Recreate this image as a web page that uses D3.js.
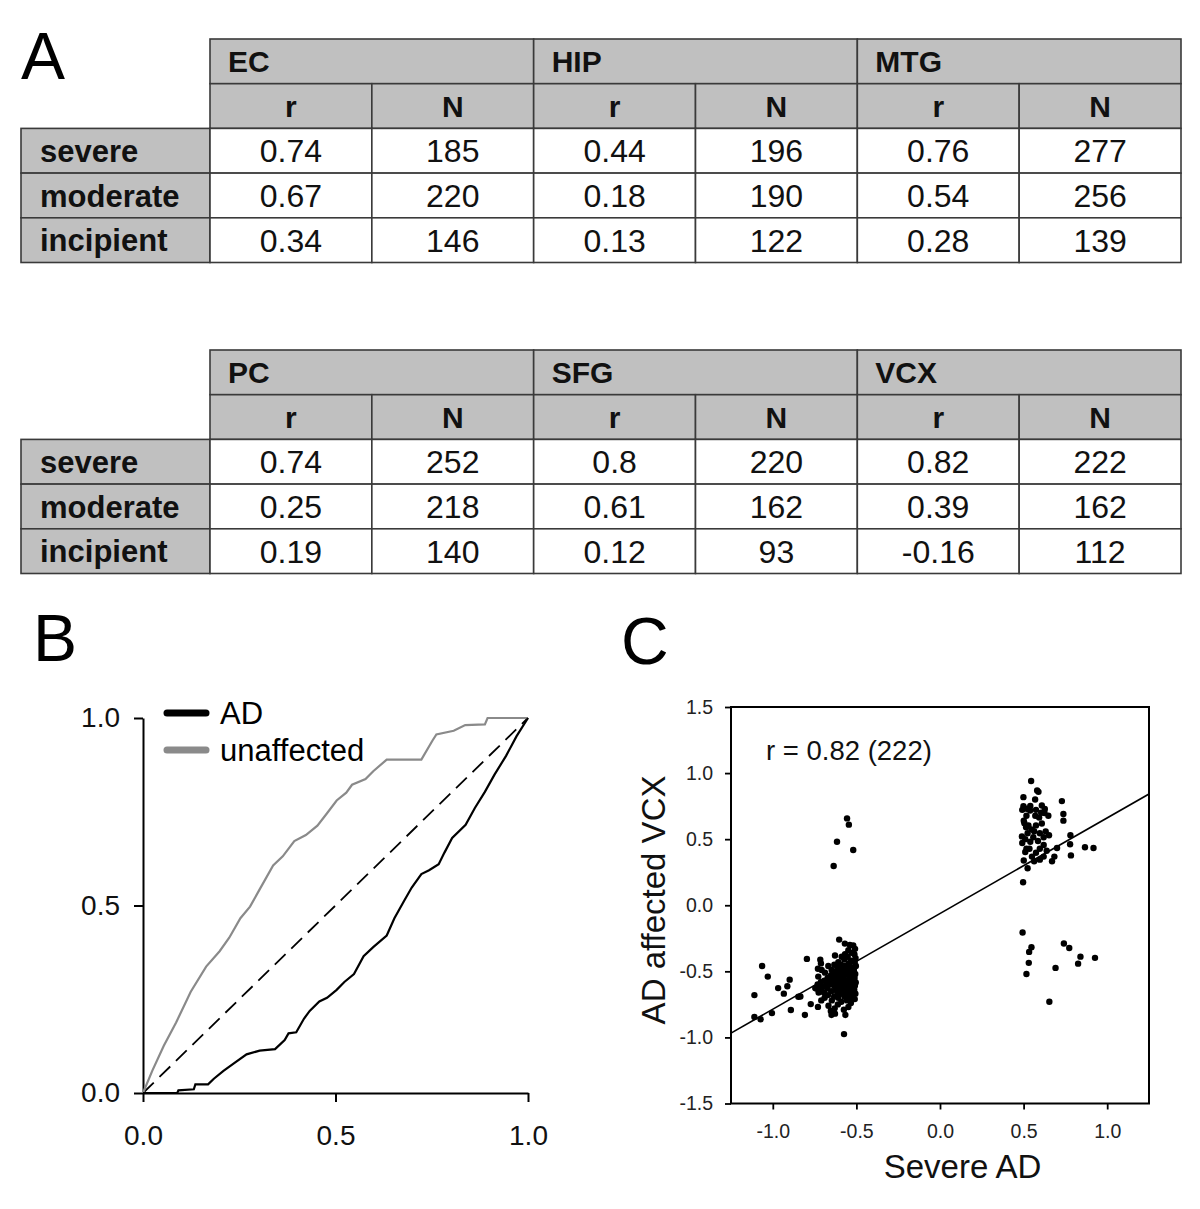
<!DOCTYPE html>
<html><head><meta charset="utf-8">
<script src="https://cdn.jsdelivr.net/npm/d3@7"></script>
<style>
html,body{margin:0;padding:0;background:#fff;}
svg{display:block;}
text{font-family:"Liberation Sans",Arial,Helvetica,sans-serif;}
</style></head>
<body><svg id="fig" width="1200" height="1209"></svg>
<script>
// ---------- DATA ----------
const stages = ["severe","moderate","incipient"];
const subHeaders = ["r","N"];
const regionsTop = ["EC","HIP","MTG"];
const regionsBottom = ["PC","SFG","VCX"];
// rows = stages, cols = regions
const rTop = [[0.74,0.44,0.76],[0.67,0.18,0.54],[0.34,0.13,0.28]];
const nTop = [[185,196,277],[220,190,256],[146,122,139]];
const rBottom = [[0.74,0.8,0.82],[0.25,0.61,0.39],[0.19,0.12,-0.16]];
const nBottom = [[252,220,222],[218,162,162],[140,93,112]];

// Panel B: P-P curves
const ppTicks = [0,0.5,1];
const adCurve = [[0,0],[0.089,0],[0.092,0.007],[0.132,0.010],[0.136,0.023],[0.169,0.023],[0.184,0.038],[0.209,0.059],[0.236,0.079],[0.269,0.103],[0.303,0.113],[0.343,0.117],[0.368,0.141],[0.378,0.159],[0.398,0.162],[0.418,0.198],[0.433,0.219],[0.458,0.244],[0.478,0.254],[0.503,0.275],[0.523,0.296],[0.548,0.317],[0.573,0.365],[0.598,0.389],[0.633,0.420],[0.653,0.466],[0.678,0.512],[0.698,0.548],[0.723,0.584],[0.743,0.594],[0.768,0.610],[0.783,0.641],[0.803,0.680],[0.838,0.715],[0.862,0.760],[0.888,0.803],[0.913,0.849],[0.943,0.899],[0.970,0.951],[1,1]];
const unaffectedCurve = [[0,0],[0.024,0.059],[0.054,0.126],[0.086,0.188],[0.124,0.27],[0.164,0.337],[0.199,0.378],[0.224,0.414],[0.253,0.466],[0.278,0.497],[0.303,0.543],[0.338,0.607],[0.363,0.631],[0.393,0.672],[0.423,0.688],[0.453,0.713],[0.478,0.746],[0.503,0.780],[0.528,0.801],[0.543,0.822],[0.578,0.837],[0.598,0.858],[0.633,0.889],[0.723,0.889],[0.752,0.940],[0.762,0.956],[0.807,0.966],[0.837,0.981],[0.888,0.983],[0.895,1.0],[1,1]];
const diagonal = [[0,0],[1,1]];
const legendLabels = ["AD","unaffected"];

// Panel C: scatter
const scTicksX = [-1.0,-0.5,0.0,0.5,1.0];
const scTicksY = [-1.5,-1.0,-0.5,0.0,0.5,1.0,1.5];
const regSlope = 0.724, regIntercept = -0.0625;
const leftStrays = [[-1.11,-0.68],[-1.064,-0.46],[-1.03,-0.54],[-1.11,-0.845],[-1.073,-0.863],[-1.005,-0.816],[-0.968,-0.627],[-0.934,-0.669],[-0.913,-0.613],[-0.899,-0.563],[-0.892,-0.792],[-0.847,-0.692],[-0.835,-0.69],[-0.808,-0.83],[-0.796,-0.406],[-0.773,-0.748],[-0.73,-0.769],[-0.716,-0.412],[-0.712,-0.44],[-0.73,-0.48],[-0.74,-0.63],[-0.746,-0.627],[-0.636,0.297],[-0.616,0.48],[-0.556,0.657],[-0.545,0.61],[-0.519,0.418],[-0.574,-0.975]];
const leftCluster = [[-0.603,-0.26],[-0.569,-0.29],[-0.539,-0.30],[-0.519,-0.305],
[-0.508,-0.33],[-0.512,-0.37],[-0.505,-0.40],[-0.51,-0.43],[-0.503,-0.46],[-0.515,-0.49],[-0.507,-0.52],[-0.511,-0.55],[-0.504,-0.585],[-0.509,-0.61],[-0.513,-0.64],[-0.506,-0.67],[-0.51,-0.71],
[-0.528,-0.36],[-0.532,-0.42],[-0.526,-0.47],[-0.534,-0.50],[-0.529,-0.54],[-0.531,-0.58],[-0.527,-0.62],[-0.535,-0.66],[-0.53,-0.70],[-0.533,-0.74],
[-0.548,-0.34],[-0.552,-0.39],[-0.546,-0.44],[-0.554,-0.48],[-0.55,-0.52],[-0.547,-0.565],[-0.553,-0.60],[-0.549,-0.63],[-0.551,-0.68],[-0.556,-0.72],[-0.548,-0.77],
[-0.568,-0.37],[-0.572,-0.41],[-0.566,-0.46],[-0.574,-0.50],[-0.57,-0.53],[-0.567,-0.57],[-0.573,-0.61],[-0.569,-0.65],[-0.571,-0.69],[-0.575,-0.79],[-0.566,-0.83],
[-0.588,-0.39],[-0.592,-0.45],[-0.586,-0.49],[-0.594,-0.52],[-0.589,-0.56],[-0.591,-0.59],[-0.587,-0.63],[-0.593,-0.67],[-0.59,-0.73],
[-0.608,-0.43],[-0.612,-0.47],[-0.606,-0.51],[-0.614,-0.55],[-0.61,-0.58],[-0.607,-0.62],[-0.613,-0.66],[-0.609,-0.70],[-0.611,-0.75],
[-0.628,-0.38],[-0.632,-0.45],[-0.626,-0.50],[-0.634,-0.54],[-0.629,-0.57],[-0.631,-0.61],[-0.627,-0.64],[-0.633,-0.69],[-0.63,-0.78],[-0.628,-0.82],
[-0.648,-0.49],[-0.652,-0.53],[-0.646,-0.57],[-0.654,-0.60],[-0.65,-0.65],[-0.647,-0.72],[-0.653,-0.80],[-0.649,-0.83],
[-0.668,-0.46],[-0.672,-0.55],[-0.666,-0.59],[-0.674,-0.63],[-0.67,-0.68],[-0.667,-0.76],
[-0.688,-0.51],[-0.692,-0.57],[-0.686,-0.61],[-0.694,-0.66],[-0.69,-0.70],
[-0.708,-0.49],[-0.712,-0.58],[-0.706,-0.62],[-0.714,-0.65],[-0.71,-0.72],
[-0.728,-0.54],[-0.732,-0.60],[-0.726,-0.66]];
const rightUpper = [[0.545,0.94],[0.589,0.858],[0.499,0.818],[0.569,0.80],[0.729,0.788],[0.499,0.75],[0.519,0.73],[0.539,0.717],[0.609,0.755],[0.738,0.69],[0.738,0.64],
[0.867,0.439],[0.918,0.433],[0.78,0.53],[0.778,0.462],[0.783,0.377],[0.70,0.433],[0.684,0.368],[0.67,0.333],[0.497,0.174],[0.524,0.28],[0.501,0.339],
[0.581,0.869],[0.492,0.722],[0.501,0.639],[0.49,0.521],[0.492,0.471],[0.535,0.427],[0.55,0.368],[0.563,0.333],[0.597,0.427],[0.620,0.368],[0.638,0.412],
[0.609,0.619],[0.625,0.698],[0.627,0.728],[0.648,0.677],[0.574,0.604],[0.547,0.574],[0.524,0.545],[0.51,0.5],[0.574,0.722],[0.570,0.677],[0.597,0.545],
[0.62,0.515],[0.586,0.486],[0.558,0.515],[0.529,0.604],[0.517,0.677],[0.54,0.751],[0.632,0.559],[0.62,0.456],[0.574,0.397],[0.597,0.345],[0.517,0.427],
[0.51,0.403],[0.54,0.48],[0.563,0.56],[0.593,0.663],[0.505,0.62],[0.515,0.59],[0.605,0.70],[0.652,0.53]];
const rightLower = [[0.494,-0.206],[0.547,-0.318],[0.533,-0.353],[0.531,-0.436],[0.517,-0.52],[0.741,-0.289],[0.773,-0.324],[0.691,-0.474],[0.654,-0.73],[0.84,-0.389],[0.826,-0.442],[0.927,-0.398]];

// ---------- DRAW ----------
const svg = d3.select("#fig");
svg.append("rect").attr("width",1200).attr("height",1209).attr("fill","#fff");
const FONT = '"Liberation Sans",Arial,Helvetica,sans-serif';
const GRAY = "#c0c0c0", BORDER = "#3a3a3a";

function panelLetter(txt,x,y){
  svg.append("text").attr("x",x).attr("y",y).attr("font-size",66).attr("fill","#000").text(txt);
}
panelLetter("A",21,79);
panelLetter("B",33,661);
panelLetter("C",621,664);

function drawTable(top, regions, rVals, nVals){
  const g = svg.append("g");
  const rowY = d3.scaleBand().domain(d3.range(5)).range([top, top+223.5]);
  const subX = d3.scaleBand().domain(d3.range(6)).range([210,1181]);
  const labelX0 = 21, labelX1 = 210;
  const cell = (x,y,w,h,fill)=>g.append("rect").attr("x",x).attr("y",y).attr("width",w).attr("height",h)
      .attr("fill",fill).attr("stroke",BORDER).attr("stroke-width",1.6);
  const rh = rowY.bandwidth(), cw = subX.bandwidth();
  regions.forEach((reg,j)=>{
    const x = subX(2*j);
    cell(x,rowY(0),2*cw,rh,GRAY);
    g.append("text").attr("x",x+18).attr("y",rowY(0)+rh/2).attr("dy","0.36em")
      .attr("font-size",30).attr("font-weight","bold").attr("fill","#111").text(reg);
  });
  d3.range(6).forEach(k=>{
    cell(subX(k),rowY(1),cw,rh,GRAY);
    g.append("text").attr("x",subX(k)+cw/2).attr("y",rowY(1)+rh/2).attr("dy","0.36em")
      .attr("text-anchor","middle").attr("font-size",30).attr("font-weight","bold").attr("fill","#111").text(subHeaders[k%2]);
  });
  stages.forEach((st,i)=>{
    const y = rowY(i+2);
    cell(labelX0,y,labelX1-labelX0,rh,GRAY);
    g.append("text").attr("x",40).attr("y",y+rh/2).attr("dy","0.36em")
      .attr("font-size",31).attr("font-weight","bold").attr("fill","#111").text(st);
    d3.range(6).forEach(k=>{
      const j = Math.floor(k/2);
      const v = k%2===0 ? rVals[i][j] : nVals[i][j];
      cell(subX(k),y,cw,rh,"#fff");
      g.append("text").attr("x",subX(k)+cw/2).attr("y",y+rh/2).attr("dy","0.36em")
        .attr("text-anchor","middle").attr("font-size",32).attr("fill","#111").text(String(v));
    });
  });
}
drawTable(39, regionsTop, rTop, nTop);
drawTable(350, regionsBottom, rBottom, nBottom);

// ---------- Panel B ----------
const xB = d3.scaleLinear().domain([0,1]).range([143,528]);
const yB = d3.scaleLinear().domain([0,1]).range([1093,718]);
const fmt = d=>d.toFixed(1);
const axB = svg.append("g");
axB.append("g").attr("transform",`translate(0,${yB(0)})`)
  .call(d3.axisBottom(xB).tickValues(ppTicks).tickSize(9).tickSizeOuter(0).tickPadding(23).tickFormat(fmt));
axB.append("g").attr("transform",`translate(${xB(0)},0)`)
  .call(d3.axisLeft(yB).tickValues(ppTicks).tickSize(9).tickSizeOuter(0).tickPadding(14).tickFormat(fmt));
axB.selectAll("path.domain, .tick line").attr("stroke","#000").attr("stroke-width",2);
axB.selectAll(".tick text").attr("font-size",28).attr("font-family",FONT).attr("fill","#111");

const lineB = d3.line().x(d=>xB(d[0])).y(d=>yB(d[1]));
svg.append("path").datum(diagonal).attr("d",lineB).attr("fill","none").attr("stroke","#000")
  .attr("stroke-width",1.8).attr("stroke-dasharray","15,8");
svg.append("path").datum(unaffectedCurve).attr("d",lineB).attr("fill","none").attr("stroke","#8a8a8a").attr("stroke-width",2.2);
svg.append("path").datum(adCurve).attr("d",lineB).attr("fill","none").attr("stroke","#000").attr("stroke-width",2.2);

const legColors = ["#000","#8a8a8a"];
legendLabels.forEach((lab,i)=>{
  const y = 713 + i*37;
  svg.append("line").attr("x1",167).attr("x2",206).attr("y1",y).attr("y2",y)
    .attr("stroke",legColors[i]).attr("stroke-width",7).attr("stroke-linecap","round");
  svg.append("text").attr("x",220).attr("y",y).attr("dy","0.36em").attr("font-size",31).attr("fill","#000").text(lab);
});

// ---------- Panel C ----------
const xC = d3.scaleLinear().domain([-1.25,1.25]).range([731,1149]);
const yC = d3.scaleLinear().domain([-1.5,1.5]).range([1103.5,707]);
const axC = svg.append("g");
axC.append("g").attr("transform",`translate(0,${yC(-1.5)})`)
  .call(d3.axisBottom(xC).tickValues(scTicksX).tickSize(6).tickSizeOuter(0).tickPadding(15).tickFormat(fmt));
axC.append("g").attr("transform",`translate(${xC(-1.25)},0)`)
  .call(d3.axisLeft(yC).tickValues(scTicksY).tickSize(6).tickSizeOuter(0).tickPadding(12).tickFormat(fmt));
axC.selectAll("path.domain").remove();
axC.selectAll(".tick line").attr("stroke","#000").attr("stroke-width",1.8);
axC.selectAll(".tick text").attr("font-size",19.5).attr("font-family",FONT).attr("fill","#222");
svg.append("rect").attr("x",xC(-1.25)).attr("y",yC(1.5)).attr("width",xC(1.25)-xC(-1.25)).attr("height",yC(-1.5)-yC(1.5))
  .attr("fill","none").attr("stroke","#000").attr("stroke-width",2);

const allPts = leftStrays.concat(leftCluster, rightUpper, rightLower);
svg.append("g").selectAll("circle").data(allPts).join("circle")
  .attr("cx",d=>xC(d[0])).attr("cy",d=>yC(d[1])).attr("r",3.2).attr("fill","#000");

const xr = xC.domain();
svg.append("line").attr("x1",xC(xr[0])).attr("y1",yC(regSlope*xr[0]+regIntercept))
  .attr("x2",xC(xr[1])).attr("y2",yC(regSlope*xr[1]+regIntercept))
  .attr("stroke","#000").attr("stroke-width",1.7);

svg.append("text").attr("x",766).attr("y",750).attr("dy","0.36em").attr("font-size",27.5).attr("fill","#111").text("r = 0.82 (222)");
svg.append("text").attr("x",xC(0.135)).attr("y",1178).attr("text-anchor","middle").attr("font-size",33).attr("fill","#111").text("Severe AD");
svg.append("text").attr("transform",`translate(665,${yC(0.04)}) rotate(-90)`).attr("text-anchor","middle")
  .attr("font-size",33).attr("fill","#111").text("AD affected VCX");
</script></body></html>
